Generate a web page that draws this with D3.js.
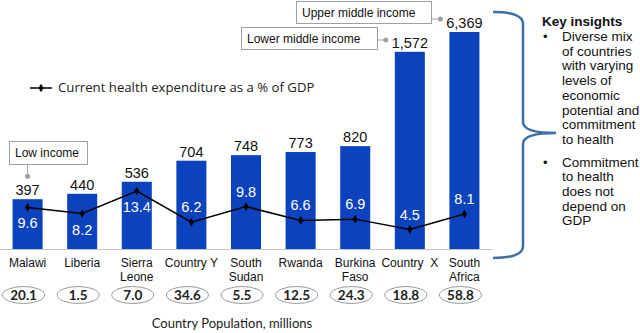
<!DOCTYPE html>
<html lang="en">
<head>
  <meta charset="UTF-8">
  <title>Health expenditure vs GDP per capita</title>
  <script src="https://d3js.org/d3.v7.min.js"></script>
  <style>
    body { margin: 0; background: #fff; }
    svg { display: block; }
    .helv { font-family: "Liberation Sans", Arial, sans-serif; }
    .cal { font-family: Lato, "Open Sans", sans-serif; }
  </style>
</head>
<body>
  <div id="chart"></div>
  <script>
    var w = 640, h = 333;

    // data
    var countries = [["Malawi"], ["Liberia"], ["Sierra", "Leone"], ["Country Y"], ["South", "Sudan"],
                     ["Rwanda"], ["Burkina", "Faso"], ["Country  X"], ["South", "Africa"]];
    var gdpPerCapita = [397, 440, 536, 704, 748, 773, 820, 1572, 6369];
    var healthPct = [9.6, 8.2, 13.4, 6.2, 9.8, 6.6, 6.9, 4.5, 8.1];
    var population = [20.1, 1.5, 7.0, 34.6, 5.5, 12.5, 24.3, 18.8, 58.8];
    var incomeGroups = ["Low income", "Lower middle income", "Upper middle income"];
    var incomeGroupAt = [0, 7, 8];   // first country of each group
    var insights = [
      ["Diverse mix", "of countries", "with varying", "levels of", "economic", "potential and", "commitment", "to health"],
      ["Commitment", "to health", "does not", "depend on", "GDP"]
    ];

    var svg = d3.select("#chart").append("svg")
      .attr("width", w)
      .attr("height", h);

    var base = 249;

    var x = d3.scaleBand()
      .domain(d3.range(countries.length))
      .range([0, 492])
      .paddingInner(0.45)
      .paddingOuter(0.23);

    // bar scale, clamped: the tallest bar is cut off
    var y = d3.scaleLinear()
      .domain([0, 1730])
      .range([base, 32])
      .clamp(true);

    var y2 = d3.scaleLinear()
      .domain([0, 13.4])
      .range([base, 191]);

    var cx = function(i) { return x(i) + x.bandwidth() / 2; };

    // bars
    svg.append("g").selectAll("rect")
      .data(gdpPerCapita)
      .enter().append("rect")
      .attr("x", function(d, i) { return x(i); })
      .attr("width", x.bandwidth())
      .attr("y", function(d) { return y(d); })
      .attr("height", function(d) { return base - y(d); })
      .attr("fill", "#0b42bd");

    // baseline
    var axis = svg.append("g")
      .attr("transform", "translate(0," + base + ")")
      .call(d3.axisBottom(x).tickSize(0).tickSizeOuter(0).tickFormat(""));
    axis.select(".domain").attr("stroke", "#c4c4c4").attr("stroke-width", 1);

    // value labels
    svg.append("g").selectAll("text")
      .data(gdpPerCapita)
      .enter().append("text")
      .attr("class", "helv")
      .attr("x", function(d, i) { return cx(i); })
      .attr("y", function(d) { return y(d) - 4; })
      .attr("text-anchor", "middle")
      .attr("font-size", 14.5)
      .attr("fill", "#111")
      .text(function(d) { return d3.format(d >= 1000 ? ",": "d")(d); });

    // health expenditure line
    var line = d3.line()
      .x(function(d, i) { return cx(i); })
      .y(function(d) { return y2(d); });

    svg.append("path")
      .attr("d", line(healthPct))
      .attr("fill", "none")
      .attr("stroke", "#000")
      .attr("stroke-width", 1.5);

    var diamond = d3.symbol().type(d3.symbolDiamond).size(22);

    svg.append("g").selectAll("path")
      .data(healthPct)
      .enter().append("path")
      .attr("d", diamond)
      .attr("transform", function(d, i) { return "translate(" + cx(i) + "," + y2(d) + ")"; })
      .attr("fill", "#000");

    svg.append("g").selectAll("text")
      .data(healthPct)
      .enter().append("text")
      .attr("class", "helv")
      .attr("x", function(d, i) { return cx(i); })
      .attr("y", function(d, i) { return i < 3 ? y2(d) + 21 : y2(d) - 10; })
      .attr("text-anchor", "middle")
      .attr("font-size", 14.5)
      .attr("fill", "#fff")
      .text(function(d) { return d.toFixed(1); });

    // category labels
    var cat = svg.append("g").selectAll("text")
      .data(countries)
      .enter().append("text")
      .attr("class", "helv")
      .attr("x", function(d, i) { return cx(i); })
      .attr("y", 267)
      .attr("text-anchor", "middle")
      .attr("font-size", 12)
      .attr("fill", "#111")
      .style("white-space", "pre");
    cat.selectAll("tspan")
      .data(function(d, i) { return d.map(function(t) { return { t: t, i: i }; }); })
      .enter().append("tspan")
      .attr("x", function(d) { return cx(d.i); })
      .attr("dy", function(d, j) { return j === 0 ? 0 : 14; })
      .text(function(d) { return d.t; });

    // population ellipses
    var pop = svg.append("g").selectAll("g")
      .data(population)
      .enter().append("g")
      .attr("transform", function(d, i) { return "translate(" + (cx(i) - 4) + ",295)"; });
    pop.append("ellipse")
      .attr("rx", 21)
      .attr("ry", 8.5)
      .attr("fill", "#fff")
      .attr("stroke", "#9a9a9a")
      .attr("stroke-width", 1);
    pop.append("text")
      .attr("class", "cal")
      .attr("y", 4.5)
      .attr("text-anchor", "middle")
      .attr("font-size", 13.5)
      .attr("font-weight", "bold")
      .attr("fill", "#222")
      .text(function(d) { return d.toFixed(1); });

    svg.append("text")
      .attr("class", "cal")
      .attr("x", 232)
      .attr("y", 328)
      .attr("text-anchor", "middle")
      .attr("font-size", 13)
      .attr("fill", "#222")
      .text("Country Population, millions");

    // legend
    svg.append("line")
      .attr("x1", 30).attr("x2", 52)
      .attr("y1", 88).attr("y2", 88)
      .attr("stroke", "#000").attr("stroke-width", 1.5);
    svg.append("path")
      .attr("d", diamond)
      .attr("transform", "translate(41,88)");
    svg.append("text")
      .attr("x", 58)
      .attr("y", 92)
      .attr("font-family", "'Open Sans', sans-serif")
      .attr("font-size", 13.2)
      .attr("fill", "#222")
      .text("Current health expenditure as a % of GDP");

    // income group callouts
    var boxes = [
      { x0: 9, y0: 141, w: 78, h: 23 },
      { x0: 241, y0: 27, w: 136, h: 22 },
      { x0: 296, y0: 1, w: 135, h: 22 }
    ];
    incomeGroups.forEach(function(name, k) {
      var b = boxes[k], i = incomeGroupAt[k];
      var g = svg.append("g");
      g.append("rect")
        .attr("x", b.x0 + 0.5).attr("y", b.y0 + 0.5)
        .attr("width", b.w).attr("height", b.h)
        .attr("fill", "#fff").attr("stroke", "#a0a0a0");
      g.append("text")
        .attr("class", "helv")
        .attr("x", b.x0 + 6)
        .attr("y", b.y0 + 16)
        .attr("font-size", 12)
        .attr("fill", "#111")
        .text(name);
      var dx, dy, lx, ly;
      if (k === 0) {
        lx = cx(i); ly = b.y0 + b.h + 0.5;
        dx = cx(i); dy = y(gdpPerCapita[i]) - 23;
      } else {
        lx = b.x0 + b.w + 0.5; ly = b.y0 + 13 + (k === 2 ? 5 : 0);
        dx = cx(i) - 24; dy = ly;
      }
      g.append("line")
        .attr("x1", lx).attr("y1", ly).attr("x2", dx).attr("y2", dy)
        .attr("stroke", "#a0a0a0");
      g.append("circle")
        .attr("cx", dx).attr("cy", dy).attr("r", 2.5)
        .attr("fill", "#a0a0a0");
    });

    // brace
    svg.append("path")
      .attr("d", "M493,12 Q523,12 523,24 L523,122 Q523,133 556,133 Q523,133 523,144 L523,246 Q523,258 493,258")
      .attr("fill", "none")
      .attr("stroke", "#3b6fa8")
      .attr("stroke-width", 2.5);

    // key insights
    svg.append("text")
      .attr("class", "helv")
      .attr("x", 542)
      .attr("y", 26)
      .attr("font-size", 13.5)
      .attr("font-weight", "bold")
      .attr("fill", "#111")
      .text("Key insights");

    var lineY = 41;
    insights.forEach(function(lines, k) {
      if (k > 0) lineY += 8;
      svg.append("text")
        .attr("class", "helv")
        .attr("x", 543)
        .attr("y", lineY)
        .attr("font-size", 13)
        .attr("fill", "#111")
        .text("\u2022");
      lines.forEach(function(t) {
        svg.append("text")
          .attr("class", "helv")
          .attr("x", 562)
          .attr("y", lineY)
          .attr("font-size", 13.5)
          .attr("fill", "#111")
          .text(t);
        lineY += 14.7;
      });
    });
  </script>
</body>
</html>
